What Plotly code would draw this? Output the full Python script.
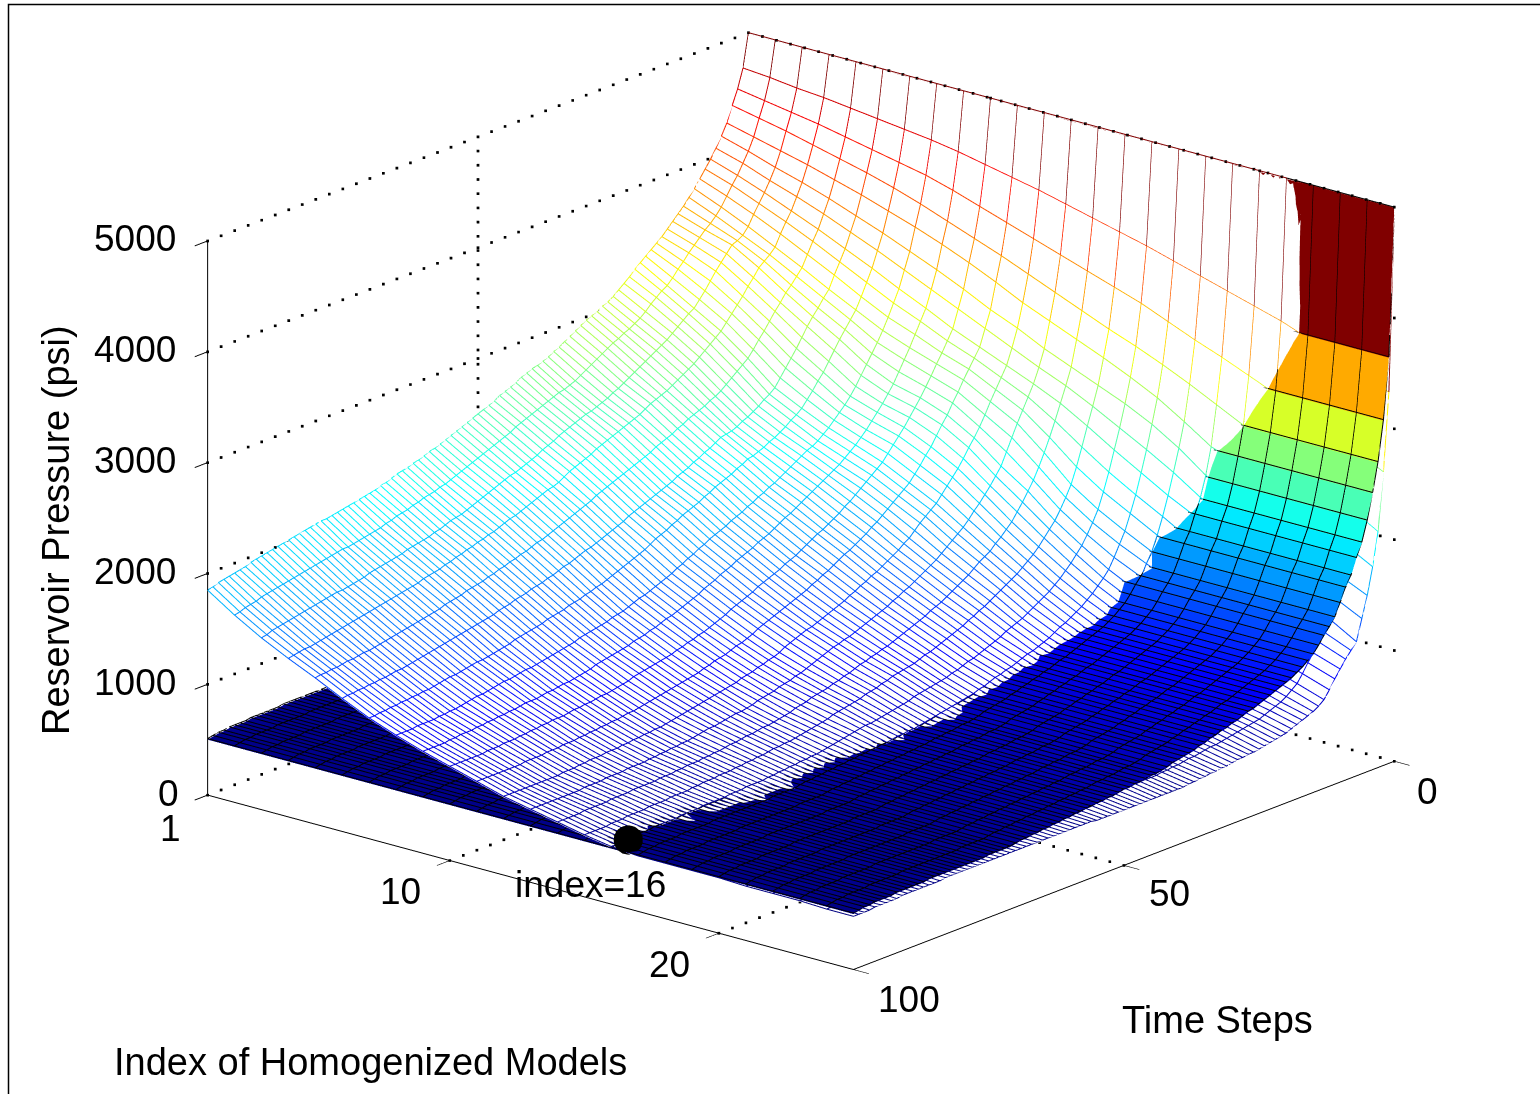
import numpy as np
import plotly.graph_objects as go

index_values = list(range(1, 26))
time_steps = list(range(0, 101))
wire_tens = [
 [500,500,500,500,500,500,500,500,500,500,500,500,500,500,500,500,500,500,500,500,500,499,499,499,499],
 [470,468,465,463,460,457,454,451,447,442,437,432,426,420,414,408,401,394,387,380,373,364,356,346,335],
 [453,449,445,441,436,431,426,421,414,406,398,390,382,374,366,358,348,338,329,319,309,299,288,277,265],
 [440,435,430,424,418,412,405,397,388,379,370,360,350,340,330,321,311,300,288,276,264,252,240,227,213],
 [426,420,414,408,401,394,386,378,369,359,348,336,326,316,306,295,283,268,252,243,232,220,208,196,183],
 [416,409,401,394,386,377,368,358,348,337,325,315,303,293,283,273,261,246,228,216,204,192,180,170,159],
 [407,400,391,383,374,364,354,343,332,321,310,299,288,278,266,253,240,226,210,199,187,175,163,152,140],
 [399,391,382,372,362,351,340,328,317,305,295,285,275,264,250,235,221,207,195,184,172,160,148,135,121],
 [392,384,374,364,353,341,329,317,307,296,287,276,265,250,233,217,203,190,176,167,156,146,135,125,115],
 [385,376,366,355,343,331,318,306,297,287,279,267,255,237,217,201,188,175,163,155,146,137,127,118,109],
 [378,368,357,345,333,320,308,296,287,279,271,258,245,225,203,187,174,162,153,145,136,128,119,110,102],
 [372,362,351,340,327,314,301,287,278,270,262,248,234,214,193,177,164,153,143,136,128,120,111,103,95],
 [366,357,348,336,321,307,294,279,269,262,254,239,223,204,184,168,154,143,133,126,119,111,103,95,87],
 [361,353,346,332,316,301,287,271,260,254,245,231,212,196,176,160,145,133,124,117,110,103,96,88,80],
 [356,348,340,325,309,294,279,263,253,247,238,224,205,188,170,154,139,127,119,112,105,98,91,84,76],
 [351,343,334,319,303,286,271,255,246,240,230,216,198,181,164,148,134,122,114,107,101,94,87,80,73],
 [346,338,328,312,296,278,263,248,240,233,222,209,192,174,158,143,129,117,110,103,97,90,84,77,71],
 [342,332,321,306,289,271,257,242,234,227,216,203,186,169,153,138,125,114,107,100,94,87,81,75,69],
 [338,327,314,300,283,264,250,237,228,221,209,197,181,164,149,134,121,110,104,97,91,84,78,73,67],
 [334,321,308,294,276,257,244,232,223,215,203,191,175,160,145,130,118,107,101,94,88,82,76,71,65],
 [330,316,302,288,270,250,238,227,218,209,197,185,170,155,141,127,115,104,98,92,86,80,74,69,63],
 [326,313,299,284,266,246,234,223,214,205,193,181,166,152,138,124,112,102,97,91,85,79,73,68,62],
 [321,309,295,280,262,243,231,219,210,201,189,177,162,149,135,121,110,100,95,90,84,78,72,67,61],
 [317,305,291,276,258,239,227,216,206,197,185,173,158,145,132,118,107,98,93,88,83,77,71,66,60],
 [313,300,287,272,254,236,224,214,203,193,181,168,154,141,129,115,104,96,92,87,81,76,70,65,59],
 [309,296,283,268,250,233,221,211,200,189,177,163,150,138,126,113,102,94,90,85,80,75,70,64,58],
 [306,293,280,265,247,231,219,208,197,185,173,160,147,135,123,111,100,92,88,83,78,73,69,63,57],
 [304,290,277,262,245,228,216,205,194,182,170,156,144,132,121,109,98,90,86,82,77,72,67,62,57],
 [301,288,274,259,242,226,214,202,191,178,166,153,141,129,118,106,97,89,85,80,76,71,66,61,56],
 [299,285,271,256,240,225,212,199,188,175,163,150,138,126,116,104,95,87,83,79,74,70,65,61,56],
 [297,283,268,253,238,224,211,196,185,172,160,147,135,124,113,102,93,85,81,77,73,69,64,60,55],
 [294,280,265,251,236,221,208,194,182,169,157,144,133,122,111,100,91,84,80,76,72,68,63,59,54],
 [291,277,262,249,233,218,206,191,179,167,155,142,130,119,109,98,90,82,79,75,71,67,63,58,54],
 [288,274,259,247,231,216,203,189,177,164,152,139,128,117,107,96,88,81,77,73,70,66,62,58,53],
 [285,271,256,244,228,213,201,186,174,161,149,137,125,115,105,95,87,79,76,72,68,65,61,57,53],
 [282,268,254,241,226,211,199,184,171,158,146,134,123,113,103,93,85,78,74,71,67,64,60,56,52],
 [280,265,251,239,224,208,197,181,168,155,144,132,121,111,101,91,83,77,73,70,67,63,60,56,52],
 [277,262,249,237,222,206,194,179,166,153,141,129,119,109,100,90,82,75,72,69,66,63,59,55,51],
 [275,260,247,235,219,204,192,177,164,151,139,127,117,107,98,88,80,74,71,68,65,62,59,55,51],
 [273,258,245,233,217,201,189,174,161,148,136,125,115,105,96,87,79,73,70,67,64,62,58,54,50],
 [272,257,244,231,215,199,187,172,159,146,134,123,113,104,95,86,78,72,69,66,64,61,58,54,50],
 [270,255,242,229,213,197,185,170,157,144,132,121,111,102,94,85,77,71,68,66,63,61,58,54,50],
 [268,253,240,227,211,195,183,168,155,142,130,119,110,101,93,84,76,71,68,65,63,60,57,54,50],
 [265,251,238,225,209,193,180,165,152,140,128,117,108,99,92,83,75,70,67,65,62,60,57,54,50],
 [263,249,236,222,207,191,178,163,150,137,126,116,107,98,90,82,74,70,67,64,62,59,57,54,50],
 [261,247,234,220,205,189,175,160,148,135,124,114,105,96,89,80,73,69,66,64,61,59,56,54,50],
 [259,245,231,218,203,187,173,158,145,133,122,112,103,94,87,79,72,68,65,63,61,58,56,53,50],
 [256,243,229,216,201,185,171,155,143,131,120,110,101,93,86,78,71,67,65,62,60,58,56,53,50],
 [254,241,227,214,199,182,168,153,141,129,118,108,99,91,85,77,70,66,64,62,60,58,55,53,50],
 [252,238,224,211,196,180,165,150,138,126,115,105,97,90,83,76,69,65,64,61,59,57,55,53,50],
 [250,236,222,208,194,178,163,148,136,124,113,103,95,88,82,75,69,65,63,61,59,57,55,53,50],
 [248,234,220,206,192,176,161,146,134,122,111,102,94,87,81,74,68,64,62,60,58,56,55,53,50],
 [246,232,218,205,190,174,159,144,132,120,110,100,92,86,80,73,68,64,62,60,58,56,54,53,50],
 [244,230,216,203,188,172,157,142,130,118,108,99,91,85,79,73,67,63,61,59,58,56,54,52,50],
 [242,228,215,201,186,170,155,140,128,117,106,97,90,83,78,72,66,63,61,59,57,55,54,52,50],
 [240,226,213,199,184,169,153,139,127,115,105,96,88,82,76,71,65,62,60,59,57,55,54,52,50],
 [238,224,211,197,182,167,151,137,125,114,104,95,87,81,75,70,65,62,60,58,56,55,54,52,51],
 [236,222,209,195,180,165,149,135,123,112,102,93,86,79,74,69,64,61,59,58,56,55,53,52,51],
 [234,220,207,193,178,163,148,133,122,111,101,92,85,78,73,68,63,61,59,58,56,54,53,52,51],
 [233,218,205,192,177,162,146,132,120,109,99,91,83,77,72,67,63,60,58,57,55,54,53,52,51],
 [231,216,203,190,175,160,145,131,119,108,98,90,82,76,71,66,62,60,58,57,55,54,53,52,51],
 [229,214,201,188,173,158,143,129,118,107,97,89,81,75,70,65,61,59,57,56,55,54,53,52,51],
 [228,213,199,186,172,157,142,128,116,106,96,88,81,75,69,64,61,59,57,56,55,54,53,52,51],
 [226,211,197,185,170,155,141,127,115,105,95,87,80,74,69,64,60,58,57,56,54,53,53,52,51],
 [225,210,196,183,169,154,139,126,114,104,94,86,79,73,68,63,60,58,56,55,54,53,52,52,51],
 [224,209,195,182,167,153,138,125,113,103,93,85,78,73,68,63,59,57,56,55,54,53,52,52,51],
 [222,207,193,180,166,151,137,124,112,102,92,84,77,72,67,62,59,57,55,54,54,53,52,51,51],
 [220,206,191,179,164,150,136,122,111,100,91,83,77,71,66,62,58,56,55,54,53,53,52,51,51],
 [219,204,190,177,163,149,134,121,110,99,90,82,76,71,66,61,58,56,55,54,53,52,52,51,51],
 [217,203,188,176,161,147,133,120,108,98,89,81,75,70,65,61,57,55,54,53,53,52,52,51,51],
 [216,202,187,174,160,146,132,119,107,97,88,80,74,69,65,60,57,55,54,53,53,52,52,51,51],
 [215,200,186,173,159,145,131,118,106,96,87,79,73,69,64,60,57,55,54,53,53,52,52,51,51],
 [214,199,185,171,158,143,130,117,105,96,87,79,73,68,64,59,56,55,54,53,53,52,52,51,51],
 [213,197,184,170,156,142,129,116,104,95,86,78,72,68,63,59,56,55,54,53,53,52,52,51,51],
 [212,196,182,169,155,141,127,115,104,94,85,78,72,67,63,59,56,55,54,53,53,52,52,51,51],
 [211,195,181,168,154,140,126,114,103,94,85,77,71,67,63,59,56,54,53,53,52,52,52,51,51],
 [210,194,180,166,153,139,125,114,102,93,84,77,71,67,62,58,56,54,53,53,52,52,52,51,51],
 [209,193,179,165,151,138,124,113,102,93,84,76,70,66,62,58,55,54,53,53,52,52,52,51,51],
 [208,192,178,164,150,137,123,112,101,92,83,76,70,66,62,58,55,54,53,53,52,52,52,51,51],
 [208,191,177,163,149,136,122,111,100,91,83,75,69,65,61,57,55,54,53,53,52,52,52,51,51],
 [207,191,176,162,148,135,122,111,100,91,82,75,69,65,61,57,55,54,53,53,52,52,52,51,51],
 [206,190,174,161,147,134,121,110,100,91,82,75,69,65,60,57,55,54,53,52,52,52,52,51,51],
 [205,189,173,160,146,133,120,109,99,90,81,74,69,64,60,57,55,54,53,52,52,52,52,51,51],
 [204,188,172,159,145,132,119,108,98,90,81,74,68,64,60,57,55,54,53,52,52,52,51,51,51],
 [203,187,171,158,144,131,118,107,98,89,81,74,68,64,60,56,55,54,53,52,52,52,51,51,50],
 [202,186,170,157,143,130,118,107,97,89,80,73,68,64,59,56,55,53,53,52,52,51,51,51,50],
 [201,185,170,156,142,129,117,106,97,88,80,73,68,64,59,56,54,53,52,52,52,51,51,51,50],
 [200,184,169,155,141,128,116,105,96,88,80,72,67,63,59,56,54,53,52,52,51,51,51,50,50],
 [199,183,168,154,140,127,115,104,96,87,79,72,67,63,59,55,54,53,52,52,51,51,51,50,50],
 [198,182,167,153,139,126,114,103,95,87,79,72,67,63,58,55,54,53,52,52,51,51,51,50,50],
 [197,181,166,152,138,126,114,103,95,87,79,71,67,63,58,55,54,53,52,52,51,51,51,50,50],
 [196,180,165,151,138,125,113,102,94,86,79,71,66,62,58,55,53,52,52,51,51,51,50,50,50],
 [195,179,164,150,137,124,113,102,94,86,78,71,66,62,58,54,53,52,52,51,51,50,50,50,49],
 [193,178,163,149,136,124,112,101,94,86,78,71,66,62,57,54,53,52,51,51,51,50,50,50,49],
 [192,177,162,148,136,123,112,101,93,85,78,71,66,62,57,53,52,51,51,51,50,50,50,49,49],
 [191,176,161,147,135,123,111,101,93,85,78,71,66,62,57,53,52,51,51,51,50,50,50,49,49],
 [190,174,160,146,134,122,111,101,92,85,78,71,66,61,56,53,51,51,50,50,50,50,49,49,49],
 [189,173,159,146,134,122,110,100,92,85,78,71,66,61,56,52,51,50,50,50,50,49,49,49,48],
 [188,172,158,145,133,121,110,100,92,85,78,71,66,61,56,52,51,50,50,50,49,49,49,48,48],
 [186,170,156,144,133,121,109,100,92,85,78,71,66,61,56,52,50,50,50,50,49,49,49,48,48],
 [185,169,155,143,132,120,109,100,92,85,78,71,66,61,56,52,50,50,50,50,49,49,49,48,48],
]
model_tens = [500,367,312,276,250,227,209,197,183,174,162,151,144,138,131,125,121,117,114,111,109,
 107,105,103,101,99,97,96,94,92,91,89,88,86,85,83,82,80,79,78,77,76,74,73,72,72,71,70,70,69,69,
 68,67,67,66,66,65,65,64,64,63,63,62,62,61,61,60,60,59,59,58,57,57,57,57,57,56,56,56,56,56,
 56,56,56,56,56,56,55,55,55,55,55,55,54,54,54,54,53,53,52,51]
z_ticks = [0, 1000, 2000, 3000, 4000, 5000]
index_ticks = [1, 10, 20]
time_ticks = [0, 50, 100]
dot_point = (16.5, 99.4, 605)

jet = [[0,'rgb(0,0,128)'],[0.125,'rgb(0,0,255)'],[0.375,'rgb(0,255,255)'],
       [0.625,'rgb(255,255,0)'],[0.875,'rgb(255,0,0)'],[1,'rgb(128,0,0)']]
CMIN, CMAX = 480, 5000
OFF = 10

X = np.array(index_values, float)
T = np.array(time_steps, float)
W = np.array(wire_tens, float)*10
M = np.array([[model_tens[int(t)]*10.0]*len(X) for t in T])

def grid(Z):
    # each segment keeps the colour of its first vertex, as in a flat-coloured mesh
    xs, ys, zs, cs = [], [], [], []
    def add(px, py, pz):
        for k in range(len(px)-1):
            xs.extend([px[k], px[k+1]]); ys.extend([py[k], py[k+1]]); zs.extend([pz[k], pz[k+1]]); cs.extend([pz[k], pz[k]])
        xs.append(np.nan); ys.append(np.nan); zs.append(np.nan); cs.append(pz[-1])
    for r in range(Z.shape[0]):
        add(list(X), [T[r]]*len(X), list(Z[r]))
    for c in range(Z.shape[1]):
        add([X[c]]*len(T), list(T), list(Z[:,c]))
    return xs, ys, zs, cs

fig = go.Figure()
lit = dict(ambient=1, diffuse=0, specular=0, roughness=1, fresnel=0)

mx, my, mz, fi, fj, fk, fc = [], [], [], [], [], [], []
nc = len(X)
for r in range(len(T)):
    for c in range(nc):
        mx.append(X[c]); my.append(T[r]); mz.append(M[r,c]-OFF)
for r in range(len(T)-1):
    for c in range(nc-1):
        a = r*nc+c; b = a+1; d = a+nc; e = d+1
        fi += [a,a]; fj += [b,e]; fk += [e,d]; fc += [M[r,c],M[r,c]]
fig.add_trace(go.Mesh3d(x=mx,y=my,z=mz,i=fi,j=fj,k=fk,intensity=fc,intensitymode='cell',
    colorscale=jet,cmin=CMIN,cmax=CMAX,showscale=False,flatshading=True,lighting=lit,hoverinfo='skip'))
gx,gy,gz,_ = grid(M)
fig.add_trace(go.Scatter3d(x=gx,y=gy,z=gz,mode='lines',line=dict(color='black',width=2),hoverinfo='skip',showlegend=False))

fig.add_trace(go.Surface(x=X,y=T,z=W-OFF,colorscale=[[0,'white'],[1,'white']],showscale=False,lighting=lit,hoverinfo='skip'))
gx,gy,gz,gc = grid(W)
fig.add_trace(go.Scatter3d(x=gx,y=gy,z=gz,mode='lines',line=dict(color=gc,colorscale=jet,cmin=CMIN,cmax=CMAX,width=2),hoverinfo='skip',showlegend=False))

# dotted grid, drawn as small square dots along the grid lines
dx,dy,dz=[],[],[]
def dots(p,q,n):
    for s in np.linspace(0,1,n):
        dx.append(p[0]+(q[0]-p[0])*s); dy.append(p[1]+(q[1]-p[1])*s); dz.append(p[2]+(q[2]-p[2])*s)
for v in z_ticks:
    dots((1,100,v),(1,0,v),41); dots((1,0,v),(25,0,v),47)
for v in index_ticks:
    dots((v,100,0),(v,0,0),41); dots((v,0,0),(v,0,5000),40)
for v in time_ticks[:2]:
    dots((25,v,0),(1,v,0),47); dots((1,v,0),(1,v,5000),40)
fig.add_trace(go.Scatter3d(x=dx,y=dy,z=dz,mode='markers',marker=dict(color='black',size=1.4,symbol='square'),hoverinfo='skip',showlegend=False))
fig.add_trace(go.Scatter3d(x=[dot_point[0]],y=[dot_point[1]],z=[dot_point[2]],mode='markers',marker=dict(color='black',size=17),hoverinfo='skip',showlegend=False))

def axis(**kw):
    return dict(showbackground=False, showgrid=False, zeroline=False, showspikes=False,
                showline=True, linecolor='black', linewidth=2, ticks='outside', ticklen=20, tickwidth=2, tickcolor='black',
                showticklabels=False, title=dict(text=''), tickmode='array', **kw)
SCALE = 1.54
d = np.array([0.6077,-0.7257,0.3225])
norm = 3.0
K = 548.0
r = np.array([0.7666,0.642,0.0]); u = np.array([-0.207,0.247,0.9466])
c = (-31*r - 46*u)/K
eye = c + d*norm
def anno(text,x,y,size=38,**kw):
    return dict(text=text,x=x/1540,y=1-y/1094,xref='paper',yref='paper',showarrow=False,
                font=dict(family='Liberation Sans',size=size,color='black'),xanchor='center',yanchor='middle',**kw)
def tick_label(text,x,y,z,xs,ys):
    return dict(text=text,x=x,y=y,z=z,showarrow=False,xshift=xs,yshift=ys,xanchor='center',yanchor='middle',
                font=dict(family='Liberation Sans',size=37,color='black'))
scene_labels = [tick_label(str(v),1,100,v,-73 if v else -39,2) for v in z_ticks]
scene_labels += [tick_label('1',1,100,0,-37,-33),tick_label('10',10,100,0,-49,-31),tick_label('20',20,100,0,-49,-31)]
fig.update_layout(
    width=1540,height=1094,autosize=False,margin=dict(l=0,r=0,t=0,b=0),paper_bgcolor='white',showlegend=False,
    scene=dict(domain=dict(x=[0,1],y=[0,1]),aspectmode='manual',aspectratio=dict(x=SCALE,y=SCALE,z=0.695*SCALE),
        xaxis=axis(range=[1,25],tickvals=index_ticks),
        yaxis=axis(range=[100,0],tickvals=time_ticks),
        zaxis=axis(range=[0,5000],tickvals=z_ticks),
        annotations=scene_labels,
        camera=dict(projection=dict(type='orthographic'),center=dict(x=c[0],y=c[1],z=c[2]),
                    eye=dict(x=eye[0],y=eye[1],z=eye[2]),up=dict(x=0,y=0,z=1))),
    annotations=[anno('Reservoir Pressure (psi)',56,530,textangle=-90),anno('Time Steps',1217,1020),
                 anno('Index of Homogenized Models',370,1062),anno('index=16',590,884,size=37),
                 anno('0',1427,791,size=37),anno('50',1169,893,size=37),anno('100',909,999,size=37)],
    shapes=[dict(type='rect',xref='paper',yref='paper',x0=8.5/1540,x1=1.01,y0=-0.01,y1=1-4.5/1094,line=dict(color='black',width=1.5))])
fig.write_html('out.html',config=dict(displayModeBar=False),post_script="document.body.style.margin='0';")
